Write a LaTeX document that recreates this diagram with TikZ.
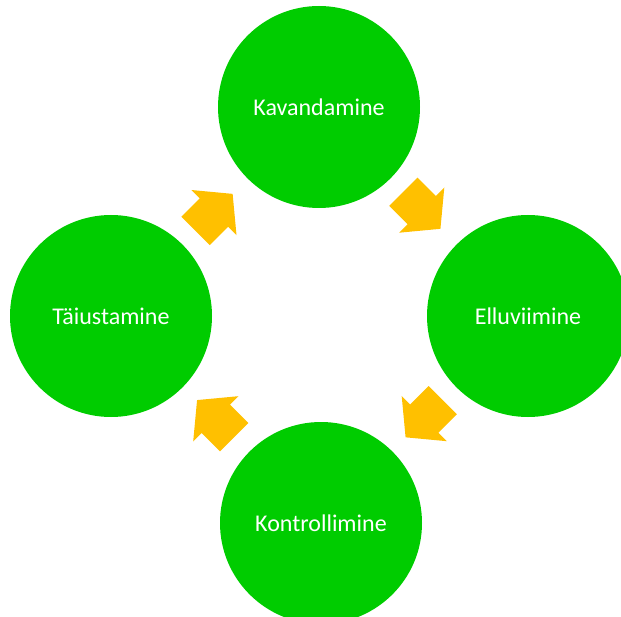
\documentclass[tikz,border=0pt]{standalone}
\usepackage{fontspec}
\setmainfont{Carlito}
\definecolor{stagegreen}{RGB}{0,204,0}
\definecolor{arrowgold}{RGB}{255,192,0}
\tikzset{
  stage/.style={circle, fill=stagegreen, draw=none, inner sep=0pt, minimum size=202pt,
    text=white, font=\fontsize{24}{28}\selectfont},
  blockarrow/.style={fill=arrowgold, draw=none},
}
\newcommand\cyclearrowpath{(0,-20) -- (26,-20) -- (26,-32) -- (52.5,0) -- (26,32) -- (26,20) -- (0,20) -- cycle}
\begin{document}
\begin{tikzpicture}[x=1pt, y=-1pt]
  \useasboundingbox (0,0) rectangle (621,617);
  \clip (0,0) rectangle (621,617);
  \node[stage] (plan)  at (319,107) {Kavandamine};
  \node[stage] (do)    at (528,316) {Elluviimine};
  \node[stage] (check) at (321,523) {Kontrollimine};
  \node[stage] (act)   at (111,316) {Täiustamine};
  \fill[blockarrow, shift={(195.5,231)}, rotate=45] \cyclearrowpath;
  \fill[blockarrow, shift={(403.3,191.7)}, rotate=-45] \cyclearrowpath;
  \fill[blockarrow, shift={(442.7,400.2)}, rotate=-135] \cyclearrowpath;
  \fill[blockarrow, shift={(234.2,437.2)}, rotate=135] \cyclearrowpath;
\end{tikzpicture}
\end{document}
